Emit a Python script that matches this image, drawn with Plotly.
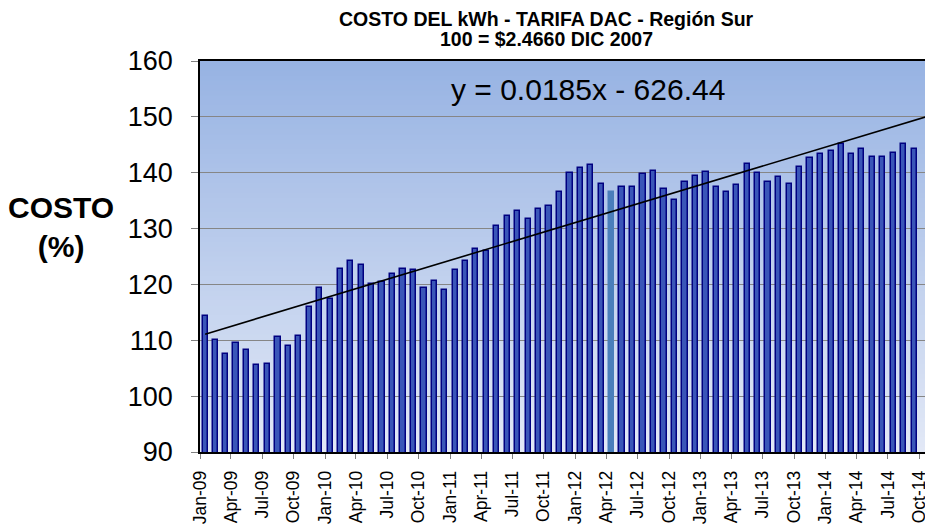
import numpy as np
import pandas as pd
import plotly.graph_objects as go

# Monthly cost index (100 = $2.4660, Dec 2007), Jan-09 .. Sep-14
start_month = "2009-01-01"
costo = [
    114.4, 110.0, 107.6, 109.6, 108.2, 105.5, 105.7, 110.6, 109.0, 110.8, 116.0, 119.4,
    117.4, 122.8, 124.2, 123.5, 120.1, 120.5, 121.8, 122.8, 122.5, 119.4, 120.6, 119.0,
    122.5, 124.2, 126.3, 126.0, 130.5, 132.2, 133.1, 131.7, 133.5, 134.0, 136.5, 139.9,
    140.9, 141.4, 137.9, 136.5, 137.4, 137.5, 139.7, 140.3, 137.0, 135.1, 138.3, 139.5,
    140.2, 137.5, 136.5, 137.8, 141.6, 140.0, 138.4, 139.3, 137.9, 141.1, 142.6, 143.3,
    143.9, 145.2, 143.4, 144.3, 142.8, 142.9, 143.6, 145.2, 144.3,
]
highlight_month = "2012-04-01"
axis_end = "2014-11-01"
equation_text = "y = 0.0185x - 626.44"
title_lines = ["COSTO DEL kWh - TARIFA DAC - Región Sur", "100 = $2.4660 DIC 2007"]

months = pd.date_range(start_month, periods=len(costo), freq="MS")
FONT = "Arial, Liberation Sans, sans-serif"

bar_colors = ["#4A7EBB" if m == pd.Timestamp(highlight_month) else "#3A56B8" for m in months]
line_colors = ["#4A7EBB" if m == pd.Timestamp(highlight_month) else "#000080" for m in months]

fig = go.Figure()

fig.add_trace(go.Bar(
    x=months,
    y=costo,
    xperiod="M1",
    xperiodalignment="middle",
    width=15 * 86400000,
    marker=dict(color=bar_colors, line=dict(color=line_colors, width=1.5)),
    showlegend=False,
))

# linear trend fitted on the bar positions (mid-month), extended to axis end
mid = months + pd.Timedelta(days=15)
xd = (mid - pd.Timestamp("1970-01-01")).days.values.astype(float)
slope, intercept = np.polyfit(xd, costo, 1)
x_end = (pd.Timestamp(axis_end) - pd.Timestamp("1970-01-01")).days
trend_x = [mid[0], pd.Timestamp(axis_end)]
trend_y = [slope * xd[0] + intercept, slope * x_end + intercept]
fig.add_trace(go.Scatter(
    x=trend_x, y=trend_y, mode="lines",
    line=dict(color="black", width=1.6), showlegend=False, hoverinfo="skip",
))

# vertical gradient background of the plot area
top_rgb = np.array([151, 179, 227])
bot_rgb = np.array([226, 232, 246])
n_strips = 80
shapes = []
for i in range(n_strips):
    f = i / (n_strips - 1)
    c = bot_rgb + (top_rgb - bot_rgb) * f
    shapes.append(dict(
        type="rect", xref="x domain", yref="y domain",
        x0=0, x1=1, y0=i / n_strips, y1=(i + 1) / n_strips + 0.002,
        fillcolor="rgb(%d,%d,%d)" % tuple(c.round()), line=dict(width=0), layer="below",
    ))

# page body has an 8px default margin, so the figure is sized to fit inside it
fig.update_layout(
    width=925,
    height=517,
    margin=dict(l=192, r=3, t=53, b=73, autoexpand=False),
    paper_bgcolor="white",
    plot_bgcolor="white",
    font=dict(family=FONT, color="black"),
    shapes=shapes,
    bargap=0,
    annotations=[
        dict(text="<b>%s</b>" % title_lines[0], xref="paper", yref="paper",
             x=0.474, y=1.108, xanchor="center", yanchor="middle", showarrow=False,
             font=dict(family=FONT, size=19.5, color="black")),
        dict(text="<b>%s</b>" % title_lines[1], xref="paper", yref="paper",
             x=0.474, y=1.057, xanchor="center", yanchor="middle", showarrow=False,
             font=dict(family=FONT, size=19.5, color="black")),
        dict(text="<b>COSTO</b><br><b>(%)</b>", xref="paper", yref="paper",
             x=-0.19, y=0.575, xanchor="center", yanchor="middle", showarrow=False,
             font=dict(family=FONT, size=30, color="black")),
        dict(text=equation_text, xref="paper", yref="paper",
             x=0.531, y=0.926, xanchor="center", yanchor="middle", showarrow=False,
             font=dict(family=FONT, size=30, color="black")),
    ],
)

fig.update_xaxes(
    type="date",
    range=[start_month, axis_end],
    dtick="M3",
    tick0=start_month,
    tickformat="%b-%y",
    tickangle=-90,
    tickfont=dict(family=FONT, size=17.5, color="black"),
    ticks="outside", ticklen=5, tickcolor="#808080",
    ticklabelstandoff=5,
    automargin=False,
    showgrid=False,
    showline=True, linecolor="black", linewidth=1.5, mirror=True,
)

fig.update_yaxes(
    range=[90, 160],
    dtick=10,
    tickfont=dict(family=FONT, size=27, color="black"),
    ticks="outside", ticklen=7, tickcolor="#808080",
    ticklabelstandoff=13,
    automargin=False,
    showgrid=True, gridcolor="#868686", gridwidth=1,
    showline=True, linecolor="black", linewidth=1.5, mirror=True,
    zeroline=False,
)

fig.write_html("out.html")
